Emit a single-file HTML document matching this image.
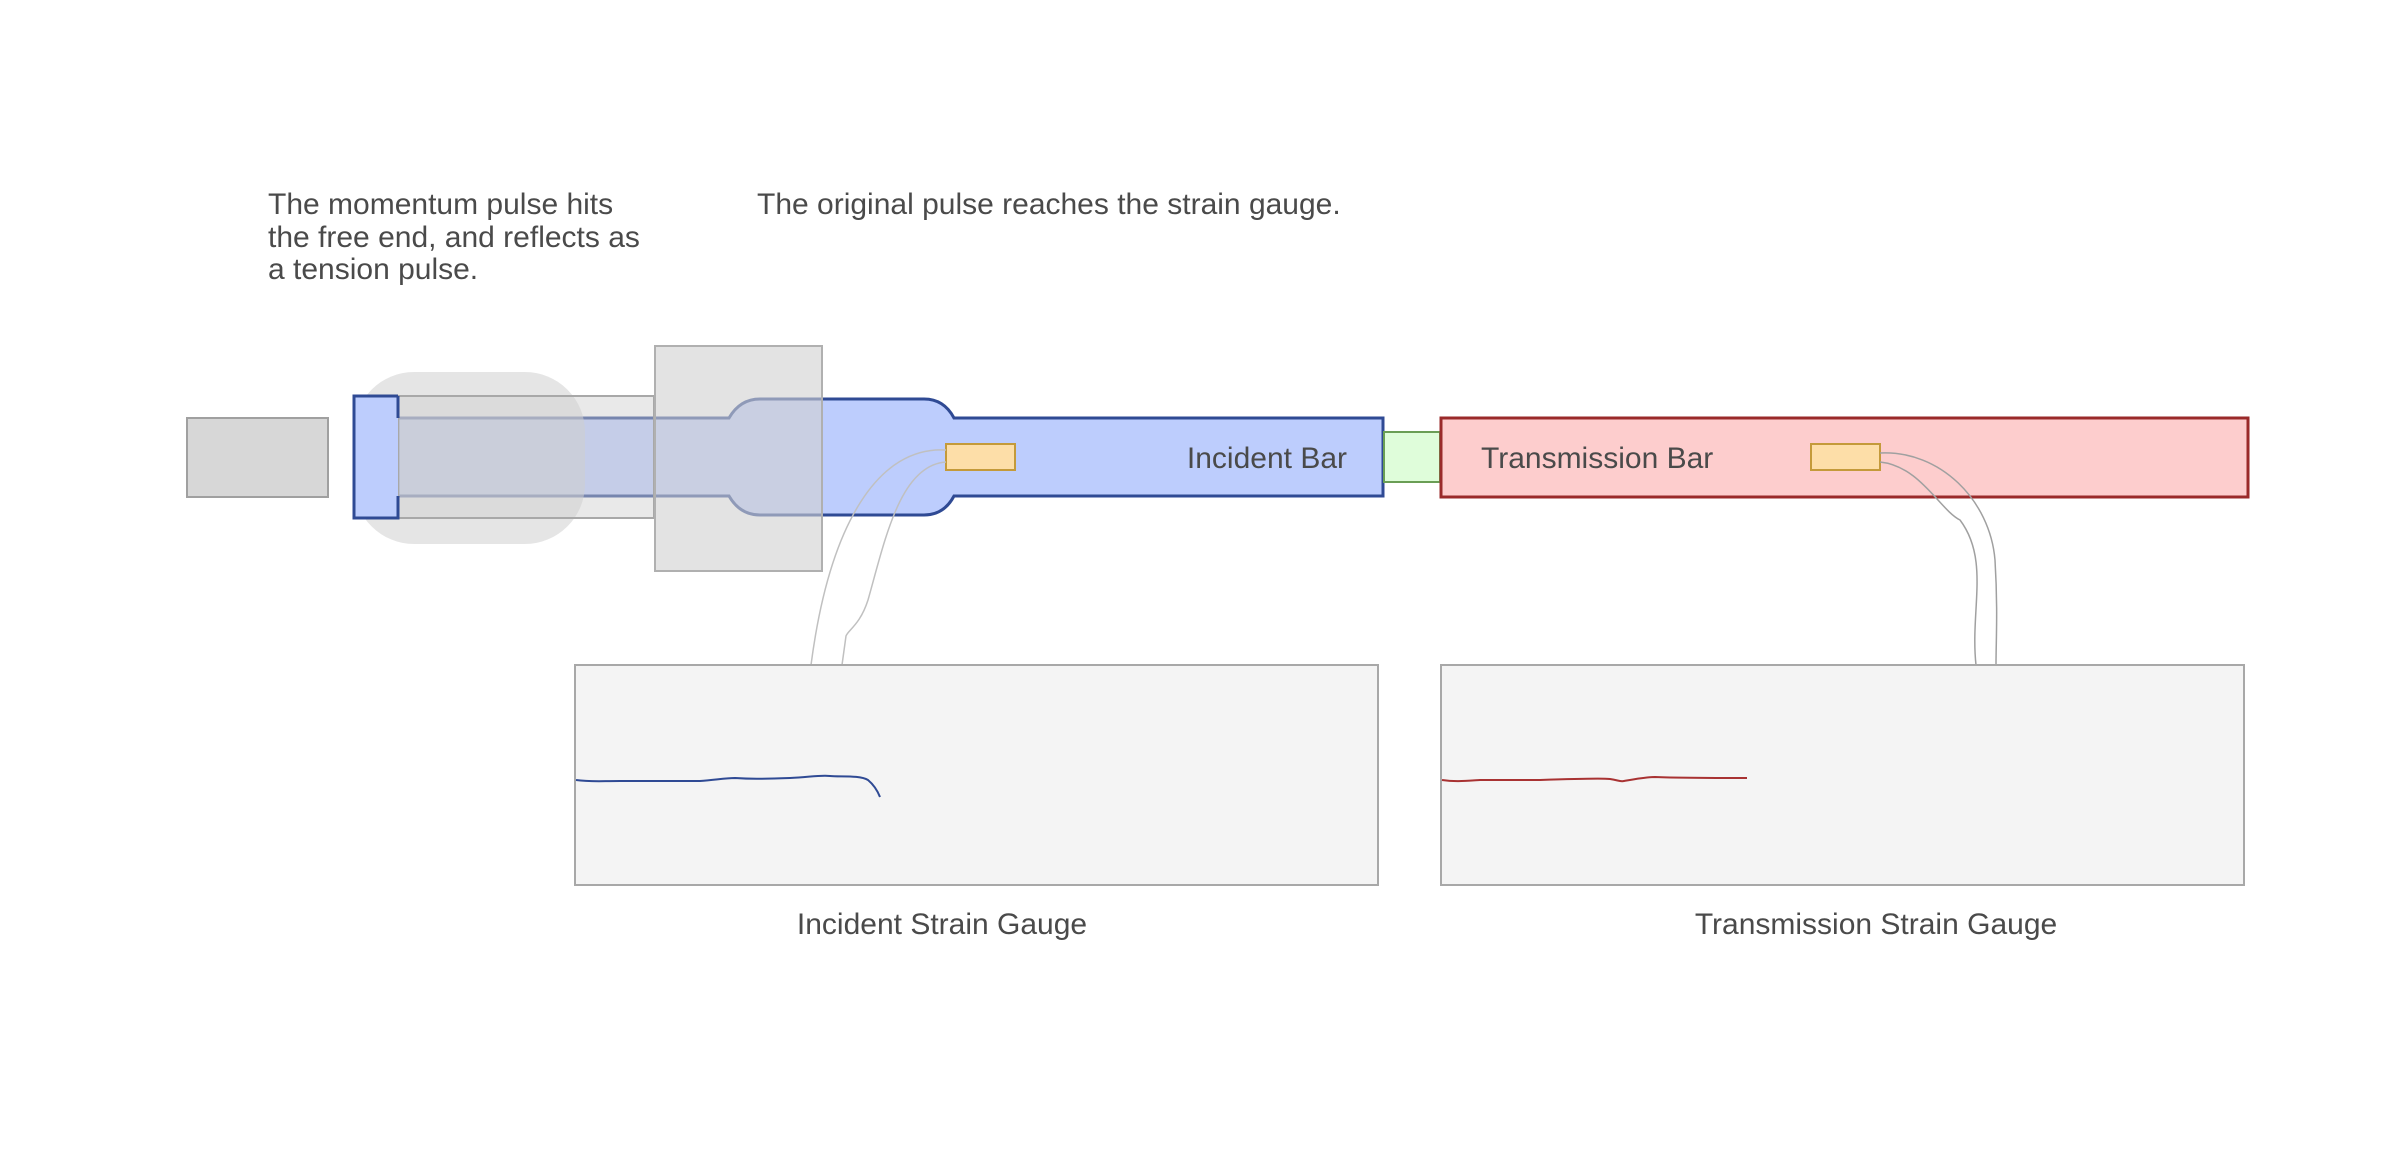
<!DOCTYPE html>
<html><head><meta charset="utf-8"><style>
html,body{margin:0;padding:0;background:#fff;}
svg{display:block;}
text{font-family:"Liberation Sans",Arial,sans-serif;fill:#4a4a4a;}
</style></head><body>
<svg width="2406" height="1157" viewBox="0 0 2406 1157" xmlns="http://www.w3.org/2000/svg">
<rect width="2406" height="1157" fill="#fff"/>
<text x="268" y="214" font-size="30">The momentum pulse hits</text>
<text x="268" y="247" font-size="30">the free end, and reflects as</text>
<text x="268" y="279" font-size="30">a tension pulse.</text>
<text x="757" y="214" font-size="30">The original pulse reaches the strain gauge.</text>

<rect x="187" y="418" width="141" height="79" fill="#d7d7d7" stroke="#a0a0a0" stroke-width="2"/>

<path d="M398,418 H729 Q740,399 760,399 H924 Q944,399 954,418 H1383 V496 H954 Q944,515 924,515 H760 Q740,515 729,496 H398 Z" fill="#bdcdfd" stroke="#2f4a94" stroke-width="3"/>
<rect x="354" y="372" width="231" height="172" rx="60" ry="60" fill="#cfcfcf" fill-opacity="0.55"/>
<rect x="398" y="396" width="256" height="122" fill="#cfcfcf" fill-opacity="0.45" stroke="#a8a8a8" stroke-width="2"/>
<rect x="655" y="346" width="167" height="225" fill="#d0d0d0" fill-opacity="0.6" stroke="#b0b0b0" stroke-width="2"/>
<path d="M398,396 H354 V518 H398 V496 M398,418 V396" fill="#bdcdfd" stroke="#2f4a94" stroke-width="3"/>
<rect x="355.5" y="397.5" width="41" height="119" fill="#bdcdfd"/>

<rect x="946" y="444" width="69" height="26" fill="#fddea8" stroke="#c49a3a" stroke-width="2"/>

<rect x="1384" y="432" width="56" height="50" fill="#dffdda" stroke="#6a9e55" stroke-width="2"/>
<rect x="1441" y="418" width="807" height="79" fill="#fdcdcd" stroke="#9a2a2a" stroke-width="3"/>
<rect x="1811" y="444" width="69" height="26" fill="#fddea8" stroke="#c49a3a" stroke-width="2"/>

<text x="1347" y="468" font-size="30" text-anchor="end">Incident Bar</text>
<text x="1481" y="468" font-size="30">Transmission Bar</text>

<path d="M946,450 C880,446 830,520 811,665" fill="none" stroke="#c0c0c0" stroke-width="1.5"/>
<path d="M946,462 C900,465 885,540 868,600 C860,625 848,630 846,636 L842,665" fill="none" stroke="#c0c0c0" stroke-width="1.5"/>
<path d="M1880,453 C1940,450 1990,500 1995,560 C1998,610 1996,640 1996,665" fill="none" stroke="#a0a0a0" stroke-width="1.5"/>
<path d="M1880,462 C1920,466 1940,510 1960,520 C1990,560 1970,610 1976,665" fill="none" stroke="#a0a0a0" stroke-width="1.5"/>

<rect x="575" y="665" width="803" height="220" fill="#f4f4f4" stroke="#a8a8a8" stroke-width="2"/>
<rect x="1441" y="665" width="803" height="220" fill="#f4f4f4" stroke="#a8a8a8" stroke-width="2"/>

<path d="M576,780 C590,782 600,781 620,781 L700,781 C715,780 725,778 735,778 C750,779 760,779 790,778 C810,777 820,775 830,776 C840,777 860,775 868,780 C874,785 878,792 880,797" fill="none" stroke="#2f4a94" stroke-width="2"/>
<path d="M1442,780 C1455,782 1465,781 1480,780 L1540,780 C1570,779 1600,778 1610,779 C1618,780 1620,782 1624,781 C1635,779 1645,777 1655,777 C1680,778 1700,778 1747,778" fill="none" stroke="#a83232" stroke-width="2"/>

<text x="942" y="934" font-size="30" text-anchor="middle">Incident Strain Gauge</text>
<text x="1876" y="934" font-size="30" text-anchor="middle">Transmission Strain Gauge</text>
</svg>
</body></html>
